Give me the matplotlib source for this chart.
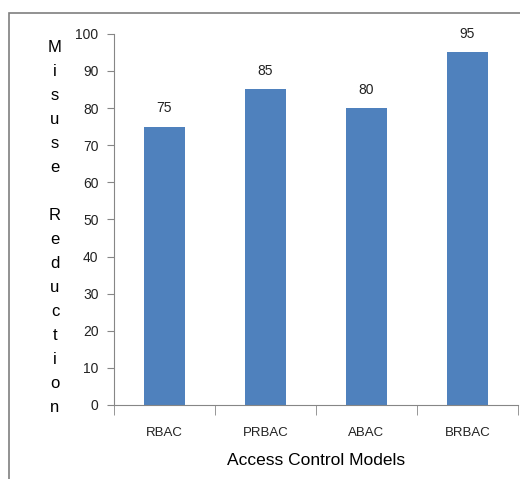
import matplotlib.pyplot as plt
from matplotlib.patches import Rectangle
import numpy as np

# access control models and their misuse reduction (%)
models = ["RBAC", "PRBAC", "ABAC", "BRBAC"]
reduction = [75, 85, 80, 95]
yticks = [0, 10, 20, 30, 40, 50, 60, 70, 80, 90, 100]

plt.rcParams['font.family'] = ['Liberation Sans Narrow', 'Liberation Sans', 'DejaVu Sans']

fig = plt.figure(figsize=(5.2, 4.79), dpi=100)
ax = fig.add_axes([0.219, 0.1545, 0.777, 0.775])

# frame round the whole chart
fig.patches.append(Rectangle((9 / 520, -0.01), 1.05, 1 - 13 / 479 + 0.01,
                             transform=fig.transFigure, fill=False,
                             edgecolor='#7f7f7f', linewidth=1.2))

x = np.arange(len(models))
ax.bar(x, reduction, width=0.4, color='#4F81BD')

for xi, v in zip(x, reduction):
    ax.text(xi, v + 3, str(v), ha='center', va='bottom', fontsize=10, color='#222222')

ax.set_xlim(-0.5, len(models) - 0.5)
ax.set_ylim(0, 100)
ax.set_yticks(yticks)
ax.tick_params(axis='y', direction='out', length=5, color='#868686',
               labelsize=10, labelcolor='#222222', pad=6)

ax.set_xticks(x)
ax.set_xticklabels(models)
ax.tick_params(axis='x', which='major', length=0, labelsize=9.5,
               labelcolor='#222222', pad=16)
ax.set_xticks(np.arange(-0.5, len(models)), minor=True)
ax.tick_params(axis='x', which='minor', direction='out', length=7, color='#868686')

for side in ['top', 'right']:
    ax.spines[side].set_visible(False)
for side in ['left', 'bottom']:
    ax.spines[side].set_color('#868686')

ax.set_xlabel("Access Control Models", fontsize=12.5, family=['Liberation Sans', 'DejaVu Sans'],
              labelpad=10)

# stacked letters for the vertical axis title
ylab = "\n".join(list("Misuse")) + "\n\n" + "\n".join(list("Reduction"))
fig.text(55 / 520, 1 - 228 / 479, ylab, ha='center', va='center',
         fontsize=12, linespacing=1.75, family=['Liberation Sans', 'DejaVu Sans'])

fig.savefig("out.png", dpi=100)
